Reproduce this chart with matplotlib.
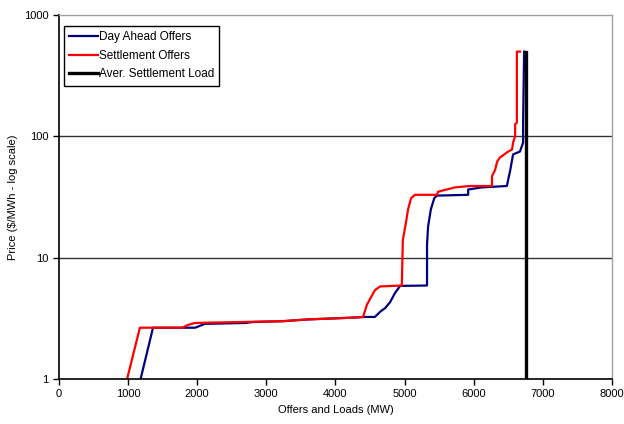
import matplotlib
matplotlib.use("Agg")
import matplotlib.pyplot as plt

plt.rcParams['font.family'] = ['Liberation Sans', 'DejaVu Sans']

# Day Ahead offers (MW, $/MWh)
da_mw = [1180, 1360, 1800, 1970, 2110, 2700, 2800, 3250, 3600, 4200, 4430, 4570,
         4650, 4720, 4790, 4860, 4935, 5325, 5325, 5340, 5380, 5430, 5470, 5920,
         5920, 6120, 6480, 6530, 6570, 6670, 6715, 6715, 6730]
da_price = [1.0, 2.65, 2.65, 2.65, 2.85, 2.9, 2.95, 3.0, 3.1, 3.2, 3.25, 3.25,
            3.6, 3.85, 4.3, 5.1, 5.86, 5.9, 12.8, 18, 25, 31, 32.5, 33,
            36.5, 38, 39, 53, 71, 75, 89, 126, 500]

# Settlement offers
st_mw = [985, 1170, 1780, 1870, 1970, 2720, 3230, 3590, 4210, 4400, 4455, 4570,
         4645, 4960, 4975, 5020, 5050, 5095, 5150, 5470, 5485, 5730, 5950, 6265,
         6265, 6310, 6340, 6380, 6500, 6555, 6570, 6600, 6600, 6625, 6625, 6670]
st_price = [1.0, 2.65, 2.65, 2.8, 2.9, 2.96, 3.0, 3.1, 3.2, 3.25, 4.1, 5.4,
            5.8, 5.9, 14, 19.5, 25, 31, 33, 33, 35, 38, 39, 39,
            47, 53, 62, 67, 75, 78, 89, 100, 126, 130, 500, 500]

# average settlement load
load_mw = [6755, 6755]
load_price = [1, 500]

fig = plt.figure(figsize=(6.24, 4.24), dpi=100)
ax = fig.add_axes([0.0946, 0.106, 0.886, 0.8585])

ax.plot(da_mw, da_price, color='#000080', lw=1.6, label='Day Ahead Offers')
ax.plot(st_mw, st_price, color='#ff0000', lw=1.6, label='Settlement Offers')
ax.plot(load_mw, load_price, color='black', lw=2.4, label='Aver. Settlement Load')

ax.set_yscale('log')
ax.set_ylim(1, 1000)
ax.set_xlim(0, 8000)
ax.set_xticks(range(0, 8001, 1000))
ax.set_yticks([1, 10, 100, 1000])
ax.set_yticklabels(['1', '10', '100', '1000'])
ax.yaxis.set_minor_locator(matplotlib.ticker.NullLocator())

for y in [10, 100]:
    ax.axhline(y, color='#333333', lw=1.0, zorder=0)

ax.tick_params(direction='out', length=4, width=1, labelsize=8)
for s in ['left', 'bottom']:
    ax.spines[s].set_color('black')
    ax.spines[s].set_linewidth(1.2)
for s in ['top', 'right']:
    ax.spines[s].set_color('#a0a0a0')
    ax.spines[s].set_linewidth(1.0)

ax.set_xlabel('Offers and Loads (MW)', fontsize=8)
ax.set_ylabel('Price ($/MWh - log scale)', fontsize=8)

leg = ax.legend(loc='upper left', bbox_to_anchor=(0.009, 0.970), borderaxespad=0,
                fontsize=8.5, fancybox=False, edgecolor='black',
                framealpha=1, handlelength=2.4, handletextpad=0.1,
                borderpad=0.45, labelspacing=0.55)
leg.get_frame().set_linewidth(1.0)

fig.savefig('out.png', dpi=100)
